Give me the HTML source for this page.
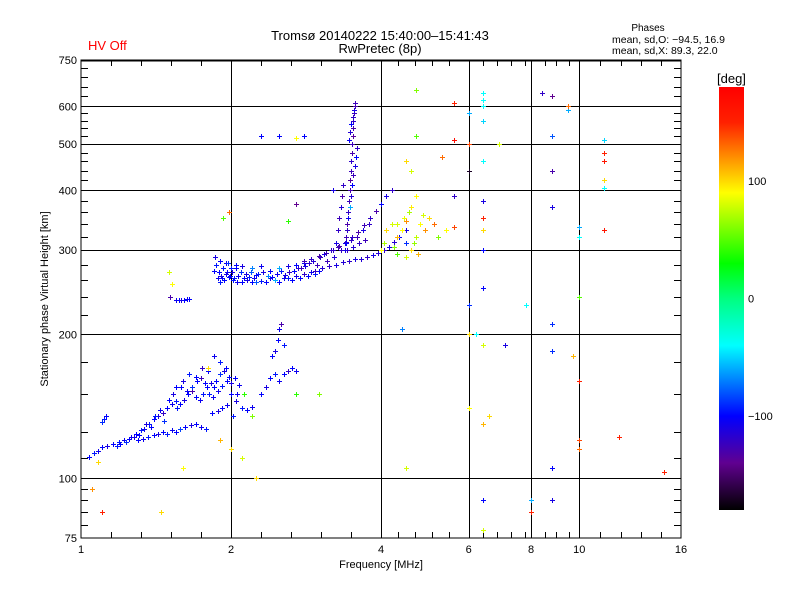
<!DOCTYPE html>
<html><head><meta charset="utf-8"><style>
body{margin:0;background:#fff}
svg{display:block;font-family:"Liberation Sans",sans-serif}
</style></head><body>
<svg id="chart" width="800" height="600" xmlns="http://www.w3.org/2000/svg">
<defs>
<linearGradient id="cbar" x1="0" y1="1" x2="0" y2="0">
<stop offset="0" stop-color="#000000"/><stop offset="0.111" stop-color="#600090"/><stop offset="0.222" stop-color="#0000ff"/><stop offset="0.389" stop-color="#00ffff"/><stop offset="0.5" stop-color="#00ff80"/><stop offset="0.583" stop-color="#00ff00"/><stop offset="0.75" stop-color="#ffff00"/><stop offset="0.833" stop-color="#ff9000"/><stop offset="0.917" stop-color="#ff2000"/><stop offset="1" stop-color="#ff0000"/>
</linearGradient>
</defs>
<text x="88" y="50" fill="#ff0000" font-size="13">HV Off</text>
<text x="380" y="40" text-anchor="middle" font-size="13">Tromsø 20140222 15:40:00–15:41:43</text>
<text x="380" y="53" text-anchor="middle" font-size="13">RwPretec (8p)</text>
<text x="648" y="31" text-anchor="middle" font-size="10">Phases</text>
<text x="612" y="43" font-size="10.5">mean, sd,O: −94.5, 16.9</text>
<text x="612" y="54" font-size="10.5">mean, sd,X:  89.3, 22.0</text>
<g id="grid"></g>
<g id="ticks"></g>
<g id="points"></g>
<rect x="81" y="60" width="600" height="478" fill="none" stroke="#000" stroke-width="1"/>
<line x1="81" y1="60.5" x2="681" y2="60.5" stroke="#000" stroke-width="2"/>
<text x="381" y="568" text-anchor="middle" font-size="11">Frequency [MHz]</text>
<text transform="translate(48,299) rotate(-90)" text-anchor="middle" font-size="11">Stationary phase Virtual Height [km]</text>
<rect x="719" y="87" width="25" height="423" fill="url(#cbar)"/>
<text x="717" y="83" font-size="13">[deg]</text>
<g id="cbticks" font-size="11"></g>
</svg>
<script>
// ---- data arrays (freq MHz, virtual height km, phase deg) ----
const eFreq=[1.04,1.06,1.08,1.10,1.13,1.16,1.19,1.22,1.25,1.28,1.31,1.34,1.37,1.40,1.43,1.46,1.49,1.52,1.55,1.58,1.61,1.64,1.67,1.70,1.73,1.76,1.79,1.82,1.85,1.88,1.92,1.96,2.00,2.04,2.08];
const eHeight=[111,113,114,116,117,118,119,120,121,122,123,127,130,133,135,137,140,143,145,143,146,150,152,148,146,150,155,158,155,152,156,160,158,162,157];
const ePhase=[-100,-95,-105,-100,-110,-100,-95,-105,-100,-110,-100,-105,-95,-100,-110,-120,-100,-105,-95,-100,-110,-100,-130,-100,-105,-95,-100,-110,-100,-105,-95,-100,-110,-100,-105];
const exFreq=[1.18,1.20,1.23,1.26,1.29,1.32,1.35,1.38,1.41,1.44,1.47,1.50,1.53,1.56,1.59,1.63,1.67,1.71,1.74,1.77,1.81,1.84,1.87,1.90,1.94,1.98,2.02,2.06];
const exHeight=[117,118,119,122,124,126,130,128,135,139,132,146,150,140,155,152,155,160,162,158,150,148,160,165,168,163,135,150];
const exPhase=[-95,-100,-90,-105,-100,-95,-110,-100,-95,-105,-90,-100,-110,-95,-100,-105,-90,-100,-125,-100,-95,-105,-100,-90,-110,-100,-95,-105];
const e2Freq=[1.30,1.33,1.36,1.40,1.43,1.46,1.49,1.52,1.55,1.58,1.62,1.66,1.70,1.74,1.78,1.83,1.88,1.92,1.96,1.10,1.11,1.12,1.55,1.57,1.59,1.61,1.63,1.65,1.51,1.55,1.60,1.65,1.70,1.75,1.80,1.85,1.90,1.95,2.00,2.05,2.10,2.15,2.20];
const e2Height=[120,121,122,123,124,125,124,126,125,127,128,129,130,128,127,137,138,140,142,131,133,135,236,236,236,236,237,237,240,155,160,165,163,170,168,180,175,170,150,145,140,139,141];
const e2Phase=[-100,-105,-95,-100,-110,-100,-95,-105,-100,-85,-100,-110,-100,-105,-95,-100,-110,-100,-105,-90,-95,-100,-105,-100,-110,-100,-105,-100,-130,-100,-110,-95,-100,-120,-100,-105,-95,-100,-100,-110,-95,-100,-105];
const e3Freq=[2.30,2.35,2.40,2.45,2.50,2.55,2.60,2.65,2.70,2.45,2.48,2.50,2.52,2.42,2.55];
const e3Height=[150,155,162,165,160,165,168,170,168,185,195,205,210,180,190];
const e3Phase=[-100,-110,-100,-95,-105,-100,-120,-100,-105,-110,-100,-105,-130,-100,-95];
const fFreq=[1.85,1.88,1.90,1.92,1.95,1.98,2.02,2.06,2.10,2.15,2.20,2.25,2.30,2.35,2.40,2.45,2.50,2.55,2.60,2.65,2.70,2.75,2.80,2.85,2.90,2.95,3.00,1.86,1.90,1.95,2.0,2.05,2.1,2.2,2.3,2.4,2.5,2.6,2.7,2.8];
const fHeight=[272,262,258,262,268,264,260,258,258,260,258,257,259,258,262,260,258,262,262,260,265,262,268,265,270,268,272,290,285,282,276,280,278,275,278,272,275,278,280,282];
const fPhase=[-100,-105,-95,-100,-110,-100,-95,-105,-100,-110,-100,-80,-95,-100,-110,-60,-100,-105,-95,-100,-110,-100,-120,-100,-105,-95,-100,-110,-100,-105,-95,-100,-110,-70,-105,-100,-60,-110,-100,-105];
const fxFreq=[1.87,1.89,1.91,1.93,1.94,1.96,1.97,1.99,2.01,2.03,2.05,2.07,2.09,2.12,2.14,2.17,2.19,2.22,2.24,2.27,2.32,2.37,2.42,2.47,2.52,2.57,2.62,2.67,2.72,2.77,2.82,2.87,2.92,2.97,3.02,3.08,3.12,3.18,3.22,3.28,3.32,3.38,3.42,3.48,3.52,3.58,3.62,3.68,3.72,3.78];
const fxHeight=[280,270,265,275,260,270,282,265,270,262,275,265,270,262,268,264,270,262,266,268,270,265,264,268,272,266,270,272,275,276,278,282,285,280,290,295,285,300,290,305,300,310,300,315,305,320,310,330,315,340];
const fxPhase=[-95,-100,-110,-95,-100,-105,-90,-100,-110,-95,-100,-105,-90,-100,-110,-95,-80,-105,-100,-95,-110,-70,-100,-105,-95,-110,-120,-100,-115,-125,-110,-120,-115,-125,-120,-110,-125,-120,-115,-125,-120,-110,-125,-120,-115,-125,-120,-110,-125,-120];
const f2Freq=[2.95,3.05,3.15,3.25,3.35,3.45,3.55,3.65,3.75,3.85,3.95,4.05,4.15,4.25,4.35,4.5,2.8,2.9,3.0,3.1,3.2,3.3,3.4,3.5,3.6,3.7,3.8,3.9,4.0,4.1,4.2];
const f2Height=[272,275,278,280,283,285,287,288,290,293,296,300,305,312,320,330,285,288,292,296,300,306,312,320,328,338,350,362,375,390,400];
const f2Phase=[-120,-115,-120,-110,-115,-120,-110,-115,-120,-110,-115,-120,-110,-115,-100,-110,-125,-120,-130,-125,-120,-130,-125,-120,-130,-125,-120,-130,-100,-110,-120];
const cuspFreq=[3.40,3.42,3.44,3.45,3.46,3.47,3.48,3.49,3.50,3.50,3.51,3.52,3.52,3.53,3.54,3.55,3.25,3.28,3.30,3.32,3.34,3.36];
const cuspHeight=[320,340,360,380,400,420,440,460,480,500,520,540,560,580,600,610,310,330,350,370,390,410];
const cuspPhase=[-125,-130,-120,-125,-130,-135,-125,-120,-130,-125,-135,-130,-120,-125,-130,-125,-110,-120,-125,-115,-130,-120];
const cxFreq=[3.38,3.40,3.42,3.44,3.46,3.48,3.50,3.52,3.54,3.56,3.58,3.45,3.47,3.49,3.51,3.53];
const cxHeight=[300,310,330,350,370,390,410,430,450,470,490,510,530,550,570,590];
const cxPhase=[-110,-100,-120,-105,-60,-115,-100,-125,-110,-100,-120,-105,-115,-100,-120,-110];
const cluFreq=[4.0,4.05,4.1,4.2,4.25,4.3,4.4,4.45,4.5,4.55,4.6,4.6,4.65,4.7,4.75,4.8,4.85,4.9,5.0,5.1,5.2,5.4,5.6,4.5,4.3];
const cluHeight=[300,310,330,340,305,320,330,350,345,360,370,300,310,320,295,340,355,330,350,340,320,330,335,290,295];
const cluPhase=[90,70,100,80,60,110,90,85,120,70,95,100,65,75,110,90,80,120,100,130,60,90,140,80,50];
const scFreq=[4.7,4.7,4.7,4.6,4.5,5.6,5.6,6.0,6.4,6.4,6.4,6.4,6.4,6.4,6.4,6.4,6.4,6.4,6.0,6.0,6.0,6.0,6.0,6.4,6.4,6.4,6.4,6.9,7.1,8.0,8.0,7.8,8.4,8.8,8.8,8.8,8.8,8.8,8.8,8.8,8.8,9.5,9.5,9.7,10,10,10,10,10,10,11.2,11.2,11.2,11.2,11.2,11.2,12,14.8,6.6,6.2,5.6,5.3,4.5,4.3,2.5,2.3,2.8,2.7,1.98,1.93,1.5,1.52,1.8,1.6,1.45,1.1,1.05,1.08,2.0,2.1,1.9,2.25,2.2,2.12,2.7,3.0,4.4,4.5,3.2,2.7,2.6];
const scHeight=[650,520,390,440,310,610,390,580,600,620,640,560,460,380,350,330,300,250,440,500,230,200,140,190,130,90,78,500,190,90,85,230,640,630,520,440,370,210,185,105,90,590,600,180,335,320,240,160,120,115,510,480,460,420,405,330,122,103,135,200,510,470,460,340,520,520,520,515,360,350,270,255,170,105,85,85,95,108,115,110,120,100,135,150,150,150,205,105,400,375,345];
const scPhase=[60,50,90,80,-90,150,-120,-60,-40,-40,-40,-50,-40,-110,150,100,-100,-100,-170,140,-90,100,90,80,110,-100,80,80,-110,-60,150,-40,-120,-140,-80,-130,-110,-90,-90,-100,-110,-60,130,110,-60,-40,50,150,140,130,-50,150,160,100,-40,160,150,150,100,-40,170,130,100,80,-100,-100,-100,90,130,50,80,90,100,90,100,150,120,100,100,80,110,100,60,40,40,60,-70,80,-110,-140,40];

// ---- axes ----
const X0=81,X1=681,Y0=538,Y1=60;
function xScale(f){return X0+(X1-X0)*Math.log(f)/Math.log(16);}
function yScale(h){return Y0-(Y0-Y1)*Math.log10(h/75);}
const stops=[[-180,[0,0,0]],[-140,[96,0,144]],[-100,[0,0,255]],[-40,[0,255,255]],[0,[0,255,128]],[30,[0,255,0]],[90,[255,255,0]],[120,[255,144,0]],[150,[255,32,0]],[180,[255,0,0]]];
function color(p){
  p=Math.max(-180,Math.min(180,p));
  for(let i=0;i<stops.length-1;i++){const a=stops[i],b=stops[i+1];
    if(p<=b[0]){const t=(p-a[0])/(b[0]-a[0]);const c=a[1].map((v,k)=>Math.round(v+(b[1][k]-v)*t));return `rgb(${c[0]},${c[1]},${c[2]})`;}}
  return 'rgb(255,0,0)';
}
const NS='http://www.w3.org/2000/svg';
function mk(tag,attrs,parent){const e=document.createElementNS(NS,tag);for(const k in attrs)e.setAttribute(k,attrs[k]);parent.appendChild(e);return e;}
const grid=document.getElementById('grid');
[2,4,6,8,10].forEach(f=>{const x=Math.round(xScale(f))+0.5;
  const l=mk('line',{x1:x,y1:Y1,x2:x,y2:Y0,stroke:'#000','stroke-width':1},grid);
  
  });
[100,200,300,400,500,600].forEach(h=>{const y=Math.round(yScale(h))+0.5;
  const l=mk('line',{x1:X0,y1:y,x2:X1,y2:y,stroke:'#000','stroke-width':1},grid);
  
  });
const ticks=document.getElementById('ticks');
const xMinorPx=[111,141,171,201,261,291,321,351,398,415,432,449,483,497,511,525,545,556,569,600,621,641,661];
xMinorPx.forEach(x=>{x+=0.5;
  mk('line',{x1:x,y1:Y1,x2:x,y2:Y1+6,stroke:'#000'},ticks);
  mk('line',{x1:x,y1:Y0,x2:x,y2:Y0-6,stroke:'#000'},ticks);});
const yMinor=[80,85,90,95,110,125,150,175,220,240,260,280,320,340,360,380,420,440,460,480,520,540,560,580,630,660,690,720];
yMinor.forEach(h=>{const y=Math.round(yScale(h))+0.5;
  mk('line',{x1:X0,y1:y,x2:X0+7,y2:y,stroke:'#000'},ticks);
  mk('line',{x1:X1,y1:y,x2:X1-7,y2:y,stroke:'#000'},ticks);});
const xTickLabels=[1,2,4,6,8,10,16];
xTickLabels.forEach(f=>{const t=mk('text',{x:xScale(f),y:553,'text-anchor':'middle','font-size':11},ticks);t.textContent=f;
  
  });
const yTickLabels=[75,100,200,300,400,500,600,750];
yTickLabels.forEach(h=>{const t=mk('text',{x:77,y:yScale(h)+4,'text-anchor':'end','font-size':11},ticks);t.textContent=h;
  
  });
const cbLabels=[100,0,-100];
const cb=document.getElementById('cbticks');
cbLabels.forEach(v=>{const y=87+423*(180-v)/360;
  const t=mk('text',{x:748,y:y+4},cb);t.textContent=v===-100?'−100':v;
  
  });
const pts=document.getElementById('points');
function drawSeries(F,H,P,name){
  for(let i=0;i<F.length;i++){
    const x=Math.round(xScale(F[i])),y=Math.round(yScale(H[i]));
    const p=mk('path',{d:`M${x-2} ${y+0.5}h5M${x+0.5} ${y-2}v5`,stroke:color(P[i]),'stroke-width':1,fill:'none'},pts);
    
    
  }
}
drawSeries(eFreq,eHeight,ePhase,'e-trace-point');
drawSeries(exFreq,exHeight,exPhase,'e-extra-point');
drawSeries(e2Freq,e2Height,e2Phase,'e-layer-point');
drawSeries(e3Freq,e3Height,e3Phase,'e-upper-point');
drawSeries(fFreq,fHeight,fPhase,'f-trace-point');
drawSeries(fxFreq,fxHeight,fxPhase,'f-extra-point');
drawSeries(f2Freq,f2Height,f2Phase,'f-rising-point');
drawSeries(cuspFreq,cuspHeight,cuspPhase,'cusp-point');
drawSeries(cxFreq,cxHeight,cxPhase,'cusp-extra-point');
drawSeries(cluFreq,cluHeight,cluPhase,'x-mode-point');
drawSeries(scFreq,scHeight,scPhase,'scatter-point');
</script>
</body></html>
